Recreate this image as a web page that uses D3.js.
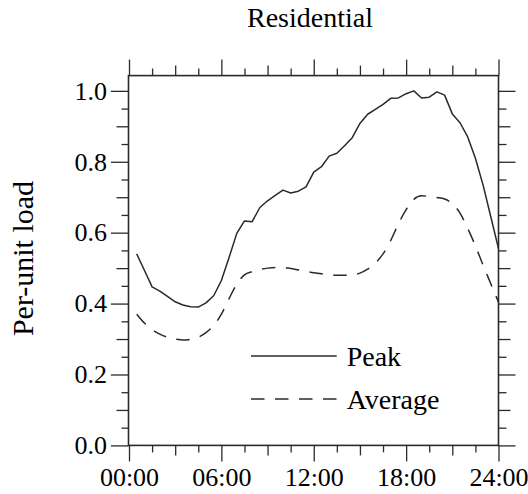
<!DOCTYPE html>
<html>
<head>
<meta charset="utf-8">
<script src="https://cdn.jsdelivr.net/npm/d3@7/dist/d3.min.js"></script>
<style>
  body { margin: 0; background: #fff; }
</style>
</head>
<body>
<div id="chart"></div>
<script>
// half-hour samples, 00:30 .. 24:00
var hours = [0.5, 1, 1.5, 2, 2.5, 3, 3.5, 4, 4.5, 5, 5.5, 6,
  6.5, 7, 7.5, 8, 8.5, 9, 9.5, 10, 10.5, 11, 11.5, 12,
  12.5, 13, 13.5, 14, 14.5, 15, 15.5, 16, 16.5, 17, 17.5, 18,
  18.5, 19, 19.5, 20, 20.5, 21, 21.5, 22, 22.5, 23, 23.5, 24]

var peakLoad = [0.540, 0.494, 0.447, 0.435, 0.420, 0.405, 0.396, 0.391, 0.390, 0.402, 0.422, 0.465,
  0.530, 0.598, 0.633, 0.631, 0.671, 0.690, 0.705, 0.720, 0.712, 0.717, 0.729, 0.771,
  0.786, 0.816, 0.824, 0.845, 0.868, 0.908, 0.934, 0.948, 0.962, 0.979, 0.980, 0.992,
  1.000, 0.980, 0.982, 0.997, 0.988, 0.935, 0.910, 0.870, 0.810, 0.734, 0.645, 0.555]

var averageLoad = [0.370, 0.345, 0.327, 0.314, 0.305, 0.300, 0.297, 0.299, 0.305, 0.318, 0.338, 0.370,
  0.414, 0.455, 0.481, 0.490, 0.496, 0.500, 0.502, 0.502, 0.499, 0.495, 0.491, 0.487,
  0.484, 0.482, 0.480, 0.480, 0.481, 0.486, 0.497, 0.514, 0.540, 0.578, 0.625, 0.665,
  0.694, 0.704, 0.702, 0.699, 0.695, 0.682, 0.655, 0.612, 0.563, 0.508, 0.456, 0.404]

var xMajorTicks = [0, 6, 12, 18, 24]
var xMidTicks = [3, 9, 15, 21]
var xMinorTicks = [1.5, 4.5, 7.5, 10.5, 13.5, 16.5, 19.5, 22.5]

var yMajorTicks = [0, 0.2, 0.4, 0.6, 0.8, 1.0]
var yMidTicks = [0.1, 0.3, 0.5, 0.7, 0.9]
var yMinorTicks = [0.05, 0.15, 0.25, 0.35, 0.45, 0.55, 0.65, 0.75, 0.85, 0.95]

var seriesNames = ['Peak', 'Average']

var width = 528
var height = 494
var frame = {left: 128.5, right: 498.5, top: 75.6, bottom: 445.4}
var ink = '#2a2a2a'
var serif = "'Liberation Serif', 'Times New Roman', 'DejaVu Serif', serif"

var svg = d3.select('#chart')
  .append('svg')
  .attr('width', width)
  .attr('height', height)
  .attr('font-family', serif)

var xScale = d3.scaleLinear()
  .domain([0, 24])
  .range([frame.left + 0.5, frame.right])

var yScale = d3.scaleLinear()
  .domain([0, 1.043])
  .range([frame.bottom, frame.top])

var fmtHour = function (h) { return d3.format('02d')(h) + ':00' }

// one axis call per tick level, so each level gets its own length
function drawAxis (maker, side, ticks, size, labelled, padding) {
  var axis = maker(side.scale)
    .tickValues(ticks)
    .tickSize(size)
    .tickPadding(padding || 4)
  if (!labelled) axis.tickFormat('')
  else if (side.fmt) axis.tickFormat(side.fmt)
  var g = svg.append('g')
    .attr('transform', side.at)
    .call(axis)
  g.attr('font-family', serif).attr('font-size', 26)
  g.select('.domain').remove()
  g.selectAll('.tick line').attr('stroke', ink).attr('stroke-width', 1.3)
  g.selectAll('.tick text')
    .attr('fill', '#000')
    .attr('font-family', serif)
    .attr('font-size', 26)
  return g
}

var leftSide = {scale: yScale, at: 'translate(' + frame.left + ',0)', fmt: d3.format('.1f')}
var rightSide = {scale: yScale, at: 'translate(' + frame.right + ',0)'}
var bottomSide = {scale: xScale, at: 'translate(0,' + frame.bottom + ')', fmt: fmtHour}
var topSide = {scale: xScale, at: 'translate(0,' + frame.top + ')'}

drawAxis(d3.axisLeft, leftSide, yMajorTicks, 17.6, true, 4)
drawAxis(d3.axisLeft, leftSide, yMidTicks, 12, false)
drawAxis(d3.axisLeft, leftSide, yMinorTicks, 7, false)

drawAxis(d3.axisRight, rightSide, yMajorTicks, 17, false)
drawAxis(d3.axisRight, rightSide, yMidTicks, 12, false)
drawAxis(d3.axisRight, rightSide, yMinorTicks, 8, false)

drawAxis(d3.axisBottom, bottomSide, xMajorTicks, 16, true, 6)
drawAxis(d3.axisBottom, bottomSide, xMidTicks, 10, false)
drawAxis(d3.axisBottom, bottomSide, xMinorTicks, 7, false)

drawAxis(d3.axisTop, topSide, xMajorTicks, 16, false)
drawAxis(d3.axisTop, topSide, xMidTicks, 10, false)
drawAxis(d3.axisTop, topSide, xMinorTicks, 7, false)

// plot frame
svg.append('rect')
  .attr('x', frame.left)
  .attr('y', frame.top)
  .attr('width', frame.right - frame.left)
  .attr('height', frame.bottom - frame.top)
  .attr('fill', 'none')
  .attr('stroke', ink)
  .attr('stroke-width', 1.6)

var peakLine = d3.line()
  .x(function (d, i) { return xScale(hours[i]) })
  .y(function (d) { return yScale(d) })

var averageLine = d3.line()
  .curve(d3.curveMonotoneX)
  .x(function (d, i) { return xScale(hours[i]) })
  .y(function (d) { return yScale(d) })

svg.append('path')
  .datum(peakLoad)
  .attr('d', peakLine)
  .attr('fill', 'none')
  .attr('stroke', ink)
  .attr('stroke-width', 1.5)
  .attr('stroke-linejoin', 'round')

svg.append('path')
  .datum(averageLoad)
  .attr('d', averageLine)
  .attr('fill', 'none')
  .attr('stroke', ink)
  .attr('stroke-width', 1.5)
  .attr('stroke-dasharray', '13.5,10.5')

// title and y label
svg.append('text')
  .attr('x', 310)
  .attr('y', 27)
  .attr('text-anchor', 'middle')
  .attr('font-size', 28)
  .attr('font-family', serif)
  .text('Residential')

svg.append('text')
  .attr('transform', 'translate(33,258.5) rotate(-90)')
  .attr('text-anchor', 'middle')
  .attr('font-size', 30)
  .attr('font-family', serif)
  .text('Per-unit load')

// legend
var legend = svg.append('g')
  .attr('transform', 'translate(251,356)')

var legendRows = legend.selectAll('.legendRow')
  .data(seriesNames)
  .enter()
  .append('g')
  .attr('class', 'legendRow')
  .attr('transform', function (d, i) { return 'translate(0,' + (i * 43) + ')' })

legendRows.append('line')
  .attr('x1', 0)
  .attr('x2', 85.7)
  .attr('stroke', ink)
  .attr('stroke-width', 1.5)
  .attr('stroke-dasharray', function (d, i) { return i === 1 ? '13.5,10.5' : null })

legendRows.append('text')
  .attr('x', 95.7)
  .attr('y', 10)
  .attr('font-size', 28)
  .attr('font-family', serif)
  .text(function (d) { return d })
</script>
</body>
</html>
